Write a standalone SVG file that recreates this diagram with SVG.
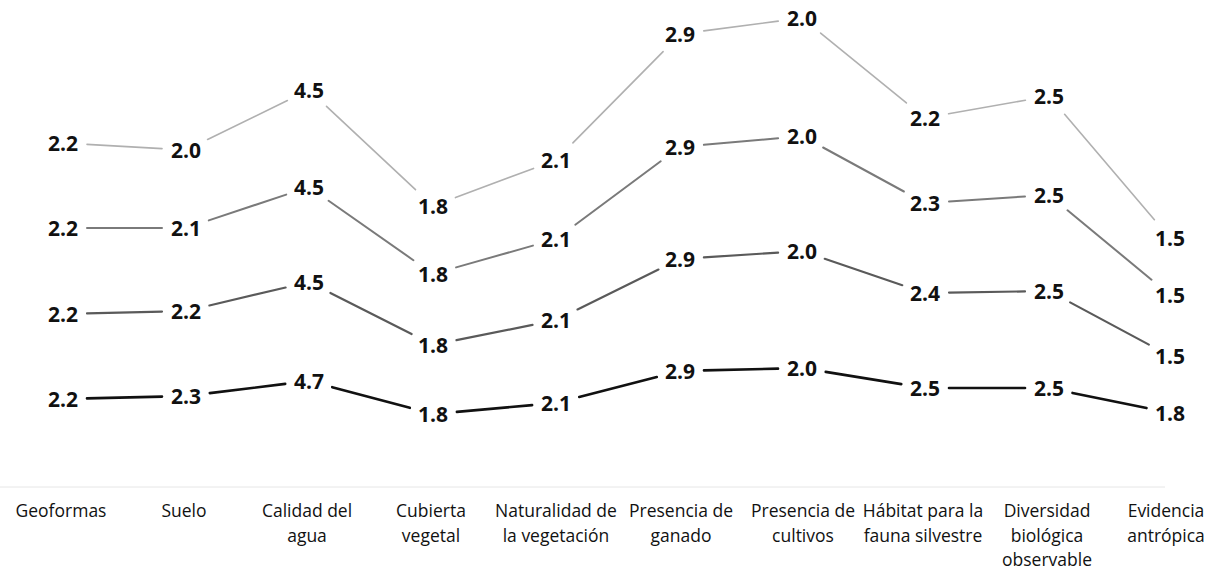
<svg xmlns="http://www.w3.org/2000/svg" width="1211" height="569" viewBox="0 0 1211 569">
<style>
.v{font-family:"Open Sans","DejaVu Sans",sans-serif;font-weight:700;font-size:21px;fill:#111;text-anchor:middle}
.c{font-family:"Open Sans","DejaVu Sans",sans-serif;font-size:17.5px;fill:#111;text-anchor:middle}
.s1{stroke:#b0b0b0;stroke-width:1.6;fill:none;stroke-linecap:round}
.s2{stroke:#7a7a7a;stroke-width:2;fill:none;stroke-linecap:round}
.s3{stroke:#5a5a5a;stroke-width:2.2;fill:none;stroke-linecap:round}
.s4{stroke:#111;stroke-width:2.6;fill:none;stroke-linecap:round}
</style>
<rect width="1211" height="569" fill="#fff"/>
<line x1="0" y1="487" x2="1165" y2="487" stroke="#e6e6e6" stroke-width="1"/>
<g id="connectors">
<g class="s1">
<line x1="87" y1="144.4" x2="162" y2="148.6"/>
<line x1="207.6" y1="139.5" x2="287.4" y2="100.5"/>
<line x1="326.5" y1="106.4" x2="415.5" y2="189.6"/>
<line x1="455.5" y1="197.6" x2="533.5" y2="168.4"/>
<line x1="572.9" y1="142.9" x2="663.1" y2="51.6"/>
<line x1="703.8" y1="30.9" x2="778.2" y2="21.1"/>
<line x1="820.6" y1="33.1" x2="906.4" y2="102.9"/>
<line x1="948.6" y1="113.8" x2="1025.4" y2="100.2"/>
<line x1="1064.6" y1="114.3" x2="1154.4" y2="219.7"/>
</g>
<g class="s2">
<line x1="87" y1="228" x2="162" y2="228"/>
<line x1="208.8" y1="220.4" x2="286.2" y2="194.6"/>
<line x1="328.6" y1="200.8" x2="413.4" y2="260.2"/>
<line x1="456.1" y1="267.4" x2="532.9" y2="245.6"/>
<line x1="575.3" y1="224.7" x2="660.7" y2="161.3"/>
<line x1="703.9" y1="144.8" x2="778.1" y2="138.2"/>
<line x1="823.1" y1="147.5" x2="903.9" y2="191.5"/>
<line x1="949" y1="201.5" x2="1025" y2="196.5"/>
<line x1="1067.5" y1="210.3" x2="1151.5" y2="279.7"/>
</g>
<g class="s3">
<line x1="87" y1="313.4" x2="162" y2="311.6"/>
<line x1="209.4" y1="305.5" x2="285.6" y2="287.5"/>
<line x1="330.4" y1="292.9" x2="411.6" y2="334.1"/>
<line x1="456.5" y1="340.2" x2="532.5" y2="324.8"/>
<line x1="577.5" y1="309.4" x2="658.5" y2="269.6"/>
<line x1="703.9" y1="257.4" x2="778.1" y2="252.6"/>
<line x1="824.7" y1="258.8" x2="902.3" y2="285.2"/>
<line x1="949" y1="292.6" x2="1025" y2="291.4"/>
<line x1="1070.1" y1="302.4" x2="1148.9" y2="344.6"/>
</g>
<g class="s4">
<line x1="87" y1="398.4" x2="162" y2="396.6"/>
<line x1="209.8" y1="393.1" x2="285.2" y2="383.9"/>
<line x1="332.2" y1="387.2" x2="409.8" y2="407.8"/>
<line x1="456.9" y1="411.9" x2="532.1" y2="405.1"/>
<line x1="579.2" y1="397" x2="656.8" y2="377"/>
<line x1="704" y1="370.4" x2="778" y2="368.6"/>
<line x1="825.7" y1="371.9" x2="901.3" y2="384.1"/>
<line x1="949" y1="388" x2="1025" y2="388"/>
<line x1="1072.5" y1="392.9" x2="1146.5" y2="408.1"/>
</g>
</g>
<g id="series1">
<text class="v" x="63" y="150.5">2.2</text>
<text class="v" x="186" y="157.5">2.0</text>
<text class="v" x="309" y="97.5">4.5</text>
<text class="v" x="433" y="213.5">1.8</text>
<text class="v" x="556" y="167.5">2.1</text>
<text class="v" x="680" y="41.5">2.9</text>
<text class="v" x="802" y="25.5">2.0</text>
<text class="v" x="925" y="125.5">2.2</text>
<text class="v" x="1049" y="103.5">2.5</text>
<text class="v" x="1170" y="245.5">1.5</text>
</g>
<g id="series2">
<text class="v" x="63" y="235.5">2.2</text>
<text class="v" x="186" y="235.5">2.1</text>
<text class="v" x="309" y="194.5">4.5</text>
<text class="v" x="433" y="281.5">1.8</text>
<text class="v" x="556" y="246.5">2.1</text>
<text class="v" x="680" y="154.5">2.9</text>
<text class="v" x="802" y="143.5">2.0</text>
<text class="v" x="925" y="210.5">2.3</text>
<text class="v" x="1049" y="202.5">2.5</text>
<text class="v" x="1170" y="302.5">1.5</text>
</g>
<g id="series3">
<text class="v" x="63" y="321.5">2.2</text>
<text class="v" x="186" y="318.5">2.2</text>
<text class="v" x="309" y="289.5">4.5</text>
<text class="v" x="433" y="352.5">1.8</text>
<text class="v" x="556" y="327.5">2.1</text>
<text class="v" x="680" y="266.5">2.9</text>
<text class="v" x="802" y="258.5">2.0</text>
<text class="v" x="925" y="300.5">2.4</text>
<text class="v" x="1049" y="298.5">2.5</text>
<text class="v" x="1170" y="363.5">1.5</text>
</g>
<g id="series4">
<text class="v" x="63" y="406.5">2.2</text>
<text class="v" x="186" y="403.5">2.3</text>
<text class="v" x="309" y="388.5">4.7</text>
<text class="v" x="433" y="421.5">1.8</text>
<text class="v" x="556" y="410.5">2.1</text>
<text class="v" x="680" y="378.5">2.9</text>
<text class="v" x="802" y="375.5">2.0</text>
<text class="v" x="925" y="395.5">2.5</text>
<text class="v" x="1049" y="395.5">2.5</text>
<text class="v" x="1170" y="420.5">1.8</text>
</g>
<g id="categories">
<text class="c" x="61" y="517">Geoformas</text>
<text class="c" x="184" y="517">Suelo</text>
<text class="c" x="307" y="517">Calidad del</text>
<text class="c" x="307" y="542">agua</text>
<text class="c" x="431" y="517">Cubierta</text>
<text class="c" x="431" y="542">vegetal</text>
<text class="c" x="556" y="517">Naturalidad de</text>
<text class="c" x="556" y="542">la vegetación</text>
<text class="c" x="681" y="517">Presencia de</text>
<text class="c" x="681" y="542">ganado</text>
<text class="c" x="803" y="517">Presencia de</text>
<text class="c" x="803" y="542">cultivos</text>
<text class="c" x="923" y="517">Hábitat para la</text>
<text class="c" x="923" y="542">fauna silvestre</text>
<text class="c" x="1047" y="517">Diversidad</text>
<text class="c" x="1047" y="542">biológica</text>
<text class="c" x="1047" y="566">observable</text>
<text class="c" x="1166" y="517">Evidencia</text>
<text class="c" x="1166" y="542">antrópica</text>
</g>
</svg>
